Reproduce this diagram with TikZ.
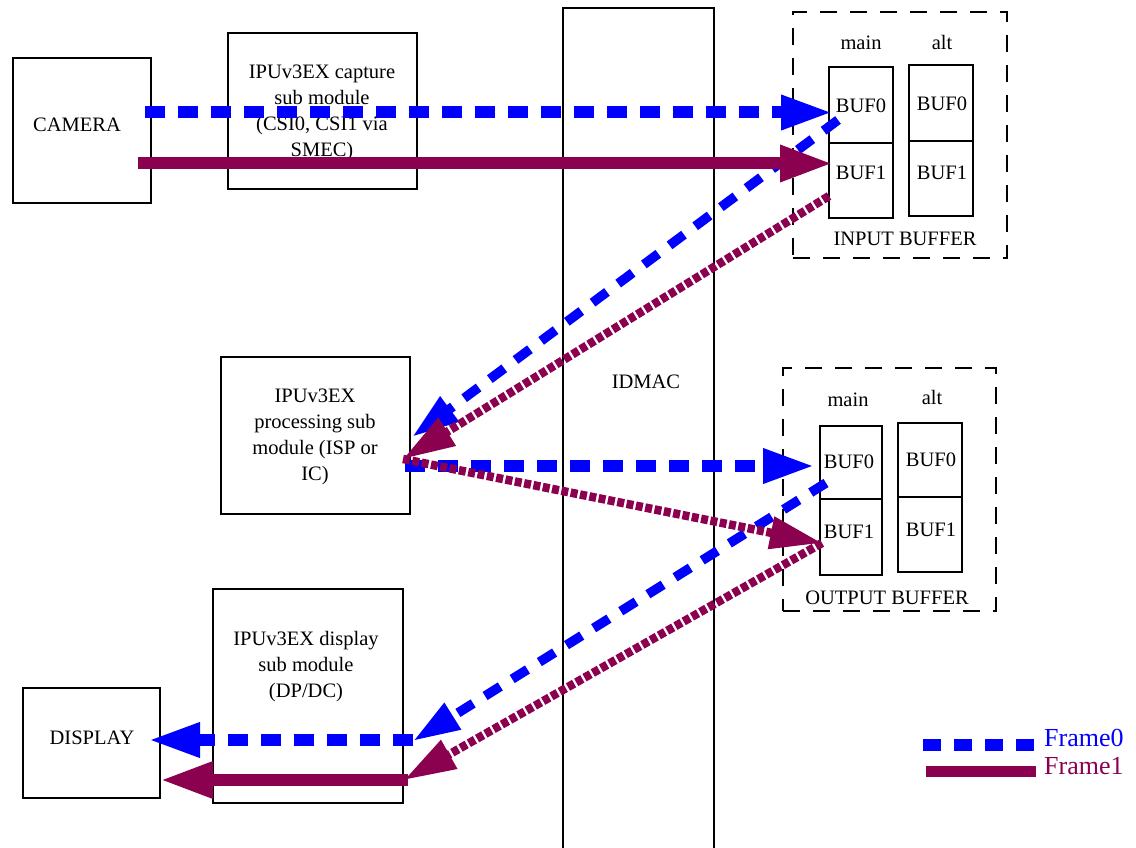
\documentclass[tikz,border=0pt]{standalone}
\usepackage{fontspec}
\setmainfont{Liberation Serif}
\usetikzlibrary{arrows.meta}
\definecolor{fblue}{RGB}{0,0,255}
\definecolor{fmar}{RGB}{140,0,80}
\begin{document}
\begin{tikzpicture}[x=1pt,y=-1pt,
  box/.style={draw=black, line width=1.8pt, inner sep=0pt, outer sep=0pt},
  dbox/.style={draw=black, line width=1.8pt, dash pattern=on 17pt off 13pt, inner sep=0pt},
  lbl/.style={font=\fontsize{20.5}{26}\selectfont, align=center, inner sep=0pt},
  leg/.style={font=\fontsize{26}{28}\selectfont, inner sep=0pt, anchor=west},
  f0/.style={draw=fblue, line width=12pt, dash pattern=on 20pt off 13pt, -{Triangle[length=52pt,width=32pt]}},
  f0d/.style={draw=fblue, line width=9.5pt, dash pattern=on 18pt off 14pt, -{Triangle[length=47pt,width=29pt]}},
  f1/.style={draw=fmar, line width=12pt, -{Triangle[length=53pt,width=34pt]}},
  f1d/.style={draw=fmar, line width=8.5pt, dash pattern=on 7pt off 2.5pt, -{Triangle[length=52pt,width=31pt]}},
]
\useasboundingbox (0,0) rectangle (1136,848);

% boxes
\node[box, minimum width=138pt, minimum height=145pt] (camera) at (82,130.5) {};
\node[lbl] (cameraT) at (77,125) {CAMERA};
\node[box, minimum width=189pt, minimum height=156pt] (capture) at (322.5,111) {};
\node[lbl] (captureT) at (322,113) {IPUv3EX capture\\sub module\\(CSI0, CSI1 via\\SMEC)};
\node[box, minimum width=151pt, minimum height=852pt] (idmac) at (638.5,434) {};
\node[lbl] (idmacT) at (646,382) {IDMAC};
\node[box, minimum width=189pt, minimum height=157pt] (proc) at (315.5,435.5) {};
\node[lbl] (procT) at (315,437) {IPUv3EX\\processing sub\\module (ISP or\\IC)};
\node[box, minimum width=190pt, minimum height=214pt] (dispsub) at (308,696) {};
\node[lbl] (dispsubT) at (306,667) {IPUv3EX display\\sub module\\(DP/DC)};
\node[box, minimum width=137pt, minimum height=110pt] (display) at (91.5,743) {};
\node[lbl] (displayT) at (92,738) {DISPLAY};

% input buffer
\node[dbox, minimum width=214pt, minimum height=246pt] (inbuf) at (900,135) {};
\node[lbl] (inmainT) at (861,43) {main};
\node[lbl] (inaltT) at (942,42) {alt};
\node[box, minimum width=64pt, minimum height=76pt] (inm0) at (861,105) {};
\node[box, minimum width=64pt, minimum height=75pt] (inm1) at (861,180.5) {};
\node[box, minimum width=64pt, minimum height=76pt] (ina0) at (941,103) {};
\node[box, minimum width=64pt, minimum height=75pt] (ina1) at (941,178.5) {};
\node[lbl] (inm0T) at (861,106) {BUF0};
\node[lbl] (inm1T) at (861,173) {BUF1};
\node[lbl] (ina0T) at (942,104) {BUF0};
\node[lbl] (ina1T) at (942,173) {BUF1};
\node[lbl] (inbufT) at (905,239) {INPUT BUFFER};

% output buffer
\node[dbox, minimum width=213pt, minimum height=243pt] (outbuf) at (889.5,489.5) {};
\node[lbl] (outmainT) at (848,400) {main};
\node[lbl] (outaltT) at (932,397) {alt};
\node[box, minimum width=62pt, minimum height=73pt] (outm0) at (851,462.5) {};
\node[box, minimum width=62pt, minimum height=76pt] (outm1) at (851,537) {};
\node[box, minimum width=64pt, minimum height=74pt] (outa0) at (930,460) {};
\node[box, minimum width=64pt, minimum height=75pt] (outa1) at (930,534.5) {};
\node[lbl] (outm0T) at (849,462) {BUF0};
\node[lbl] (outm1T) at (849,532) {BUF1};
\node[lbl] (outa0T) at (931,460) {BUF0};
\node[lbl] (outa1T) at (931,530) {BUF1};
\node[lbl] (outbufT) at (887,598) {OUTPUT BUFFER};

% connector end points
\coordinate (c0s) at (145,112.5);
\coordinate (c1s) at (138,163.5);
\coordinate (in0) at (833,112.5);
\coordinate (in1) at (833,163.5);
\coordinate (in0b) at (838,120);
\coordinate (in1b) at (829,196);
\coordinate (p0) at (412,437);
\coordinate (p1) at (403,459);
\coordinate (p0s) at (405,466);
\coordinate (out0) at (815,466);
\coordinate (out1) at (822,543);
\coordinate (out0b) at (826,483);
\coordinate (d0) at (413,741);
\coordinate (d1) at (404,780);
\coordinate (d0s) at (413,740);
\coordinate (d1s) at (408,780);
\coordinate (disp0) at (148,740);
\coordinate (disp1) at (160,780);

% Frame0 (blue)
\draw[f0] (c0s) -- (in0);
\draw[f0d] (in0b) -- (p0);
\draw[f0] (p0s) -- (out0);
\draw[f0d] (out0b) -- (d0);
\draw[f0] (d0s) -- (disp0);

% Frame1 (maroon)
\draw[f1] (c1s) -- (in1);
\draw[f1d] (in1b) -- (p1);
\draw[f1d] (p1) -- (out1);
\draw[f1d] (out1) -- (d1);
\draw[f1] (d1s) -- (disp1);

% legend
\coordinate (l0a) at (923,744.5);
\coordinate (l0b) at (1036,744.5);
\coordinate (l1a) at (926,771);
\coordinate (l1b) at (1036,771);
\draw[fblue, line width=12pt, dash pattern=on 18pt off 13pt] (l0a) -- (l0b);
\draw[fmar, line width=11pt] (l1a) -- (l1b);
\node[leg, text=fblue] (leg0) at (1044,738) {Frame0};
\node[leg, text=fmar] (leg1) at (1044,766) {Frame1};
\end{tikzpicture}
\end{document}
